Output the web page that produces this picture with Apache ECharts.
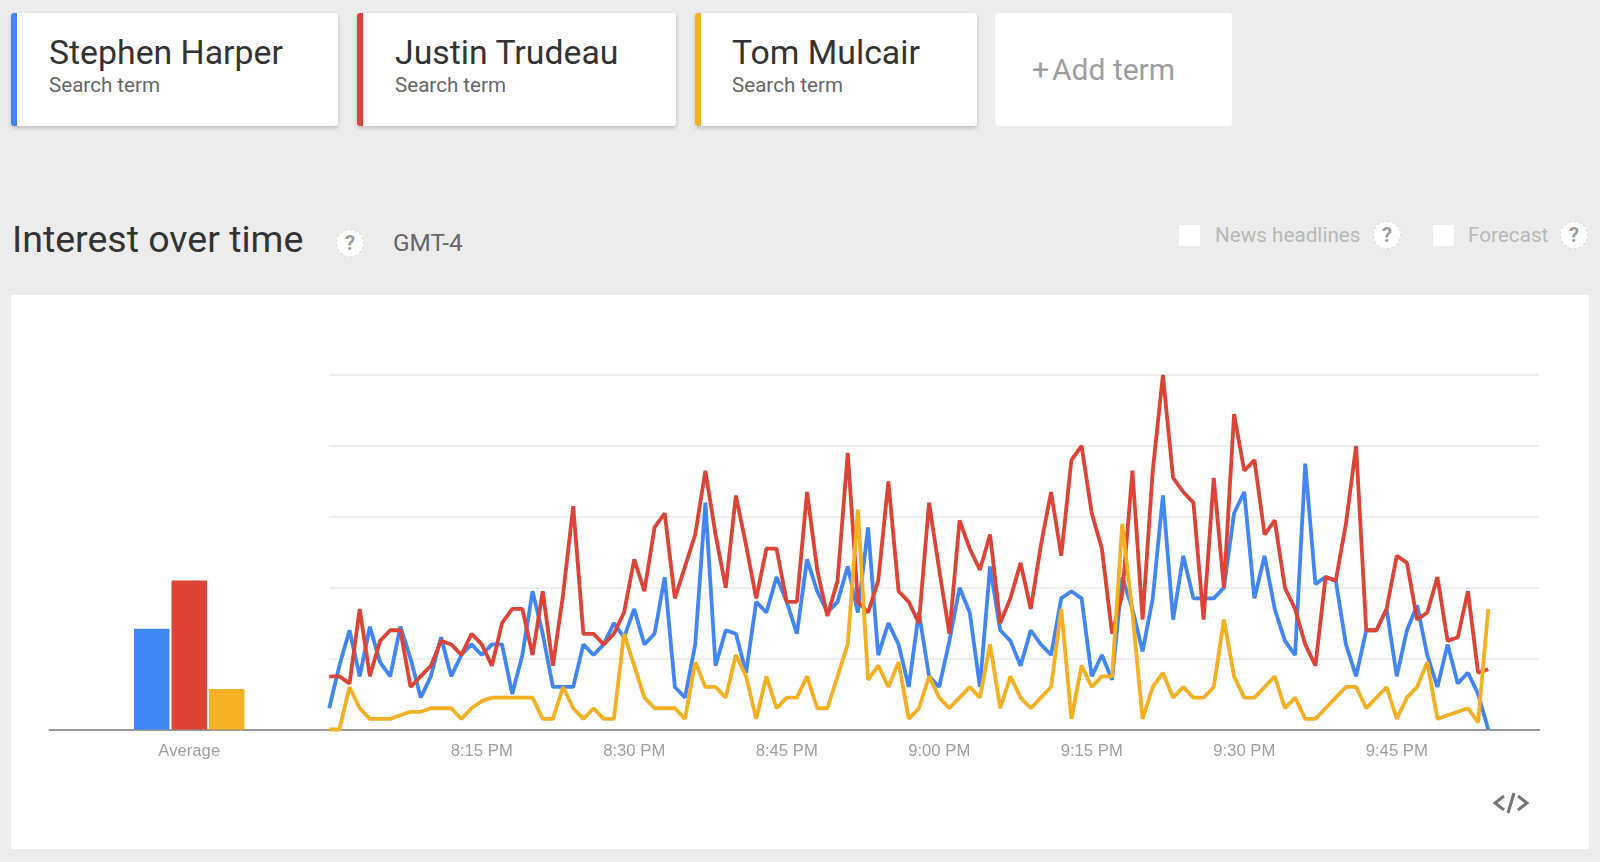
<!DOCTYPE html>
<html>
<head>
<meta charset="utf-8">
<title>Interest over time</title>
<script src="https://cdn.jsdelivr.net/npm/echarts@6/dist/echarts.min.js"></script>
<style>
    html, body { margin: 0; padding: 0; width: 1600px; height: 862px; overflow: hidden; background: #ececec; font-family: Roboto, sans-serif; }
    .abs { position: absolute; white-space: nowrap; }
    .card { position: absolute; top: 13px; height: 113px; background: #fff; border-radius: 3px; box-shadow: 0 2px 4px rgba(0,0,0,.2); overflow: hidden; }
    .card .bar { position: absolute; left: 0; top: 0; bottom: 0; width: 6px; }
    .card .name { position: absolute; left: 38px; top: 21px; font-size: 33.8px; line-height: 38px; color: #333; white-space: nowrap; }
    .card .sub { position: absolute; left: 38px; top: 60px; font-size: 20.6px; line-height: 24px; color: #666; white-space: nowrap; }
    .add { box-shadow: none; font-size: 30px; color: #9e9e9e; }
    .help { position: absolute; width: 26px; height: 26px; line-height: 26px; border-radius: 50%; background: #fff; border: 1px dashed #d8d8d8; text-align: center; font-size: 20px; font-weight: bold; color: #9a9a9a; }
    .check { position: absolute; top: 225px; width: 21px; height: 21px; background: #fff; }
    .opt { font-size: 20.7px; line-height: 26px; top: 222px; color: #b8b8b8; }
    #panel { position: absolute; left: 11px; top: 295px; width: 1578px; height: 554px; background: #fff; }
    #chart { position: absolute; left: 0; top: 0; width: 1600px; height: 862px; }
</style>
</head>
<body>

<div class="card" style="left:11px;width:327px"><div class="bar" style="background:#4285f4"></div><div class="name">Stephen Harper</div><div class="sub">Search term</div></div>
<div class="card" style="left:357px;width:319px"><div class="bar" style="background:#db4437"></div><div class="name" style="left:38px">Justin Trudeau</div><div class="sub" style="left:38px">Search term</div></div>
<div class="card" style="left:695px;width:282px"><div class="bar" style="background:#f4b025"></div><div class="name" style="left:37px">Tom Mulcair</div><div class="sub" style="left:37px">Search term</div></div>
<div class="card add" style="left:995px;width:237px"><div class="abs" style="left:37px;top:39px;line-height:36px">+<span style="margin-left:3px">Add term</span></div></div>

<div class="abs" style="left:12px;top:217px;font-size:37.5px;line-height:44px;color:#333">Interest over time</div>
<div class="help" style="left:336px;top:229px">?</div>
<div class="abs" style="left:393px;top:229px;font-size:24.4px;line-height:28px;color:#666">GMT-4</div>

<div class="check" style="left:1179px"></div>
<div class="abs opt" style="left:1215px">News headlines</div>
<div class="help" style="left:1373px;top:221px">?</div>
<div class="check" style="left:1433px"></div>
<div class="abs opt" style="left:1468px">Forecast</div>
<div class="help" style="left:1560px;top:221px">?</div>

<div id="panel"></div>
<div id="chart"></div>

<svg class="abs" style="left:1492px;top:790px" width="38" height="26" viewBox="0 0 38 26">
    <path d="M12 6 L3 13 L12 20 M26 6 L35 13 L26 20 M22 3 L16 23" fill="none" stroke="#757575" stroke-width="3"></path>
</svg>

<script>
// 每分钟一个点，8:00 PM 开始，到 9:54 PM
var harper = [
    6, 18, 28, 15, 29, 19, 15, 29, 20, 9,
    15, 26, 15, 21, 24, 21, 24, 24, 10, 21,
    39, 27, 12, 12, 12, 24, 21, 24, 30, 26,
    34, 24, 27, 43, 12, 9, 24, 64, 18, 28,
    27, 16, 36, 33, 43, 36, 27, 48, 39, 33,
    36, 46, 33, 57, 21, 30, 24, 12, 33, 15,
    12, 25, 40, 33, 12, 46, 28, 25, 18, 28,
    24, 21, 37, 39, 37, 15, 21, 14, 43, 34,
    22, 37, 66, 31, 49, 37, 37, 37, 40, 61,
    67, 37, 49, 34, 25, 21, 75, 41, 43, 42,
    24, 15, 28, 28, 34, 15, 28, 35, 21, 12,
    24, 13, 16, 10, 0
];

var trudeau = [
    15, 15, 13, 34, 15, 25, 28, 28, 12, 15,
    18, 25, 24, 21, 27, 24, 18, 30, 34, 34,
    21, 39, 18, 38, 63, 27, 27, 24, 27, 33,
    48, 39, 57, 61, 37, 46, 55, 73, 55, 40,
    66, 52, 37, 51, 51, 36, 36, 67, 45, 32,
    42, 78, 36, 33, 42, 70, 39, 36, 30, 64,
    45, 27, 59, 51, 45, 55, 30, 37, 47, 34,
    52, 67, 49, 76, 80, 61, 51, 27, 38, 73,
    31, 73, 100, 71, 67, 64, 31, 71, 40, 89,
    73, 76, 55, 59, 40, 34, 24, 18, 43, 42,
    58, 80, 28, 28, 34, 49, 47, 31, 33, 43,
    25, 26, 39, 16, 17
];

var mulcair = [
    0, 0, 12, 6, 3, 3, 3, 4, 5, 5,
    6, 6, 6, 3, 6, 8, 9, 9, 9, 9,
    9, 3, 3, 12, 6, 3, 6, 3, 3, 27,
    18, 9, 6, 6, 6, 3, 19, 12, 12, 9,
    21, 15, 3, 15, 6, 9, 9, 15, 6, 6,
    15, 24, 62, 14, 18, 12, 19, 3, 6, 15,
    9, 6, 9, 12, 9, 24, 6, 15, 9, 6,
    9, 12, 34, 3, 18, 12, 15, 15, 58, 33,
    3, 12, 16, 9, 12, 9, 9, 12, 31, 15,
    9, 9, 12, 15, 6, 9, 3, 3, 6, 9,
    12, 12, 6, 9, 12, 3, 9, 12, 19, 3,
    4, 5, 6, 2, 34
];

var terms = [
    { name: 'Stephen Harper', color: '#4285f4', avg: 28.4, data: harper },
    { name: 'Justin Trudeau', color: '#db4437', avg: 42, data: trudeau },
    { name: 'Tom Mulcair', color: '#f4b025', avg: 11.4, data: mulcair }
];

function makeTimes() {
    var arr = [];
    for (var i = 0; i < 120; i++) {
        var h = 8 + Math.floor(i / 60);
        var m = i % 60;
        arr.push(h + ':' + (m < 10 ? '0' + m : m) + ' PM');
    }
    return arr;
}

function makeSeries() {
    var arr = [];
    for (var i = 0; i < terms.length; i++) {
        arr.push({
            name: terms[i].name,
            type: 'bar',
            xAxisIndex: 0,
            yAxisIndex: 0,
            barWidth: 35.5,
            barGap: '5.6%',
            itemStyle: { color: terms[i].color },
            data: [terms[i].avg]
        });
    }
    for (var i = 0; i < terms.length; i++) {
        arr.push({
            name: terms[i].name,
            type: 'line',
            xAxisIndex: 1,
            yAxisIndex: 1,
            showSymbol: false,
            symbol: 'none',
            clip: false,
            silent: true,
            lineStyle: { color: terms[i].color, width: 3.8, join: 'bevel' },
            data: terms[i].data
        });
    }
    return arr;
}

var labelStyle = { fontFamily: 'Liberation Sans', fontSize: 16.7, color: '#9e9e9e', margin: 13 };
var baseLine = { show: true, lineStyle: { color: '#9a9a9a', width: 2 } };

var chart = echarts.init(document.getElementById('chart'), null, { renderer: 'canvas' });
chart.setOption({
    animation: false,
    backgroundColor: 'transparent',
    grid: [
        { left: 49.5, top: 375, width: 279.5, height: 354.5 },
        { left: 329.2, top: 375, width: 1209.9, height: 354.5 }
    ],
    xAxis: [
        {
            type: 'category',
            gridIndex: 0,
            data: ['Average'],
            axisLine: baseLine,
            axisTick: { show: false },
            axisLabel: labelStyle
        },
        {
            type: 'category',
            gridIndex: 1,
            boundaryGap: false,
            data: makeTimes(),
            axisLine: baseLine,
            axisTick: { show: false },
            splitLine: { show: false },
            axisLabel: Object.assign({
                interval: function(idx) { return idx > 0 && idx % 15 == 0; }
            }, labelStyle)
        }
    ],
    yAxis: [
        { type: 'value', gridIndex: 0, min: 0, max: 100, show: false },
        {
            type: 'value',
            gridIndex: 1,
            min: 0,
            max: 100,
            interval: 20,
            axisLine: { show: false },
            axisTick: { show: false },
            axisLabel: { show: false },
            splitLine: { lineStyle: { color: '#eeeeee', width: 2 } }
        }
    ],
    series: makeSeries()
});
</script>
</body>
</html>
